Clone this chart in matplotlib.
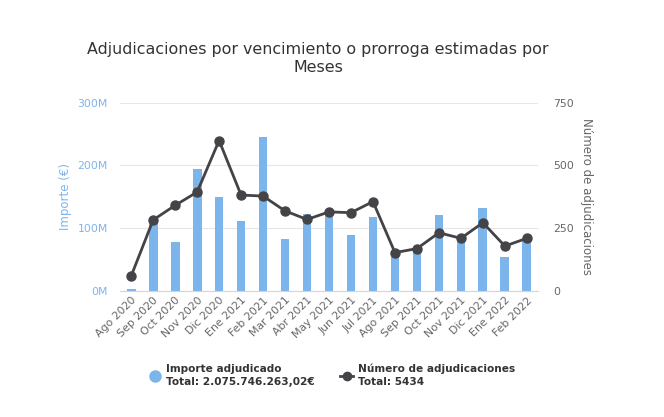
import numpy as np
import matplotlib.pyplot as plt
from matplotlib.lines import Line2D
from matplotlib.ticker import FuncFormatter

meses = ['Ago 2020', 'Sep 2020', 'Oct 2020', 'Nov 2020', 'Dic 2020', 'Ene 2021',
         'Feb 2021', 'Mar 2021', 'Abr 2021', 'May 2021', 'Jun 2021', 'Jul 2021',
         'Ago 2021', 'Sep 2021', 'Oct 2021', 'Nov 2021', 'Dic 2021', 'Ene 2022',
         'Feb 2022']
# importe adjudicado, millones de euros
importe = [3, 112, 78, 195, 150, 112, 246, 83, 123, 128, 89, 118,
           62, 68, 121, 86, 133, 54, 79]
# numero de adjudicaciones
numero = [60, 283, 341, 394, 599, 382, 378, 319, 285, 315, 312, 356,
          153, 169, 232, 210, 272, 179, 210]

azul = '#7cb5ec'
negro = '#434348'
gris = '#666666'

fig = plt.figure(figsize=(6.64, 4.17), dpi=100)
ax = fig.add_axes([0.181, 0.302, 0.629, 0.452])
ax2 = ax.twinx()

x = np.arange(len(meses))
ax.bar(x, importe, width=0.4, color=azul, zorder=2)
ax.set_ylim(0, 300)
ax.set_yticks([0, 100, 200, 300])
ax.yaxis.set_major_formatter(FuncFormatter(lambda v, p: f'{int(v)}M'))
ax.grid(axis='y', color='#e6e6e6', linewidth=0.8, zorder=0)
ax.set_axisbelow(True)
ax.set_xlim(-0.5, len(meses) - 0.5)
ax.set_xticks(x)
ax.set_xticklabels(meses, rotation=45, ha='right', rotation_mode='anchor',
                   fontsize=7.8, color=gris)
ax.tick_params(axis='y', colors=azul, labelsize=7.8, length=0, pad=9)
ax.tick_params(axis='x', length=0, pad=3)
ax.set_ylabel('Importe (€)', color=azul, fontsize=8.5, labelpad=4)

ax2.plot(x, numero, color=negro, linewidth=2, marker='o', markersize=6.5, zorder=3)
ax2.set_ylim(0, 750)
ax2.set_yticks([0, 250, 500, 750])
ax2.tick_params(axis='y', colors=gris, labelsize=7.8, length=0, pad=11)
ax2.set_ylabel('Número de adjudicaciones', color=gris, fontsize=8.5,
               rotation=270, labelpad=14)

for a in (ax, ax2):
    for s in a.spines.values():
        s.set_visible(False)
ax.spines['bottom'].set_visible(True)
ax.spines['bottom'].set_color('#ccd6eb')

fig.suptitle('Adjudicaciones por vencimiento o prorroga estimadas por\nMeses',
             x=0.479, y=0.9, fontsize=11.4, color='#333333', linespacing=1.25)

handles = [Line2D([], [], color=azul, marker='o', linestyle='none', markersize=8),
           Line2D([], [], color=negro, marker='o', linewidth=2, markersize=6)]
labels = ['Importe adjudicado\nTotal: 2.075.746.263,02€',
          'Número de adjudicaciones\nTotal: 5434']
leg = fig.legend(handles, labels, loc='center', bbox_to_anchor=(0.5, 0.1),
                 ncol=2, frameon=False, handlelength=1.2,
                 handletextpad=0.5, columnspacing=2.4,
                 prop={'weight': 'bold', 'size': 7.6})
for t in leg.get_texts():
    t.set_color('#333333')
    t.set_linespacing(1.45)

fig.savefig('out.png', dpi=100, facecolor='white')
